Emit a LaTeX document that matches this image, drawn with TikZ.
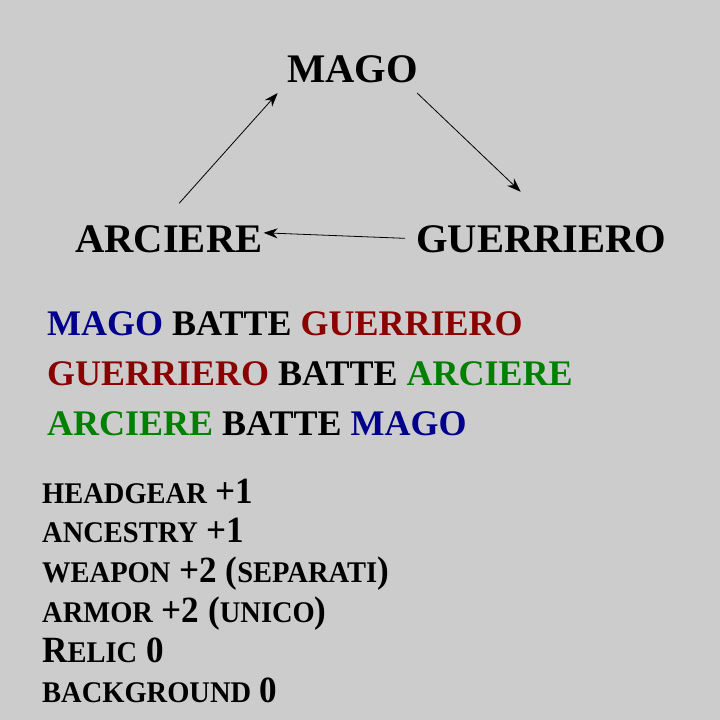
\documentclass[tikz,border=0pt]{standalone}
\usepackage{fontspec}
\usepackage{xcolor}
\usepackage{tikz}
\usetikzlibrary{arrows.meta,calc}
\setmainfont{Liberation Serif}
\newfontfamily\listfont[FakeStretch=0.95]{Liberation Serif}
\definecolor{bgray}{HTML}{CCCCCC}
\definecolor{magoblue}{HTML}{00008B}
\definecolor{guerrred}{HTML}{8B0000}
\definecolor{arcgreen}{HTML}{008000}
\newcommand{\fsc}[1]{{\fontsize{30}{30}\selectfont #1}}

\begin{document}
\begin{tikzpicture}[x=1pt,y=-1pt,
    role/.style={anchor=base west,inner sep=0pt,font=\fontsize{40.6}{40.6}\selectfont\bfseries},
    rule/.style={anchor=base west,inner sep=0pt,font=\fontsize{36}{36}\selectfont\bfseries},
    bonus/.style={anchor=base west,inner sep=0pt,font=\listfont\fontsize{37}{37}\selectfont\bfseries},
    arr/.style={-{Stealth[length=14pt,width=10pt,inset=4.5pt]},line width=0.8pt}]
  \fill[bgray] (0,0) rectangle (720,720);
  \useasboundingbox (0,0) rectangle (720,720);
  \node[role] (mago) at (287,82) {MAGO};
  \node[role] (arciere) at (75,252) {ARCIERE};
  \node[role] (guerriero) at (416,252) {GUERRIERO};
  % triangle of who beats whom
  \draw[arr,shorten <=29pt,shorten >=14pt] ($(arciere.north)+(-9,0)$) -- (mago.south west);
  \draw[arr,shorten <=15pt,shorten >=48pt] ($(mago.south east)+(-12,0)$) -- ($(guerriero.north)+(14,0)$);
  \draw[arr,shorten <=11pt,shorten >=1pt] (guerriero.west) -- ($(arciere.east)+(0,-6)$);
  \node[rule] (r1) at (47,335) {\textcolor{magoblue}{MAGO} BATTE \textcolor{guerrred}{GUERRIERO}};
  \node[rule] (r2) at (47,385) {\textcolor{guerrred}{GUERRIERO} BATTE \textcolor{arcgreen}{ARCIERE}};
  \node[rule] (r3) at (47,435) {\textcolor{arcgreen}{ARCIERE} BATTE \textcolor{magoblue}{MAGO}};
  \node[bonus] (b1) at (42,503) {\fsc{HEADGEAR} +1};
  \node[bonus] (b2) at (42,542) {\fsc{ANCESTRY} +1};
  \node[bonus] (b3) at (42,582) {\fsc{WEAPON} +2 (\fsc{SEPARATI})};
  \node[bonus] (b4) at (42,622) {\fsc{ARMOR} +2 (\fsc{UNICO})};
  \node[bonus] (b5) at (42,662) {R\fsc{ELIC} 0};
  \node[bonus] (b6) at (42,702) {\fsc{BACKGROUND} 0};
\end{tikzpicture}
\end{document}
